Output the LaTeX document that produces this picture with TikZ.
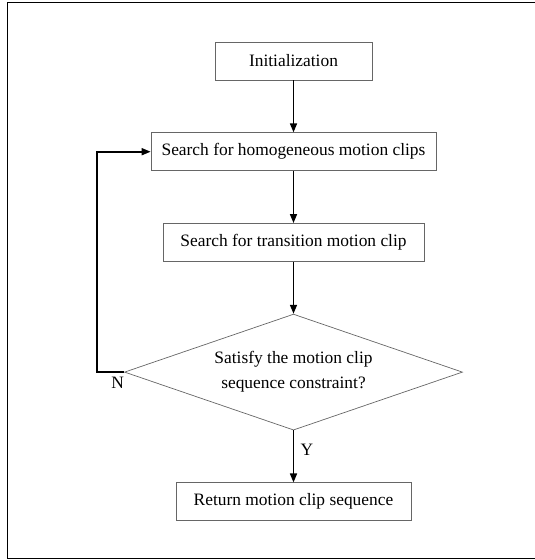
\documentclass[tikz,border=0pt]{standalone}
\usepackage{fontspec}
\setmainfont{Liberation Serif}
\usetikzlibrary{shapes.geometric,positioning,arrows.meta}

\begin{document}
\begin{tikzpicture}[x=1pt, y=1pt, node distance=52pt, font=\fontsize{17.4}{25}\selectfont]
        % Stijlen
        \tikzstyle{process} = [rectangle, minimum height=38pt, text centered, draw=black!60, line width=0.7pt]
        \tikzstyle{decision} = [diamond, aspect=2.9, minimum width=338pt, minimum height=116pt, align=center, draw=black!60, line width=0.7pt, inner sep=0pt]
        \tikzstyle{arrow} = [line width=1.6pt, -{Triangle[length=9pt, width=7pt]}]

        \useasboundingbox (0,0) rectangle (535,-560);
        % Kader
        \draw[line width=0.9pt] (537,-2) -- (7,-2) -- (7,-558) -- (537,-558);

        % Knopen
        \node (init) [process, minimum width=157pt] at (293.5,-61) {Initialization};
        \node (homog) [process, minimum width=285pt, below=of init] {Search for homogeneous motion clips};
        \node (trans) [process, minimum width=261pt, below=of homog] {Search for transition motion clip};
        \node (check) [decision, below=of trans] {Satisfy the motion clip\\sequence constraint?};
        \node (ret) [process, minimum width=235pt, below=of check] {Return motion clip sequence};

        % Pijlen
        \draw [arrow] (init) -- (homog);
        \draw [arrow] (homog) -- (trans);
        \draw [arrow] (trans) -- (check);
        \draw [arrow] (check) -- (ret) node[pos=0.38, right=3pt] {Y};

        % Terugkoppeling
        \draw [arrow] (check.west) node[below left=1pt and -4pt] {N} -- ++(-27,0) |- (homog.west);

    \end{tikzpicture}
\end{document}
